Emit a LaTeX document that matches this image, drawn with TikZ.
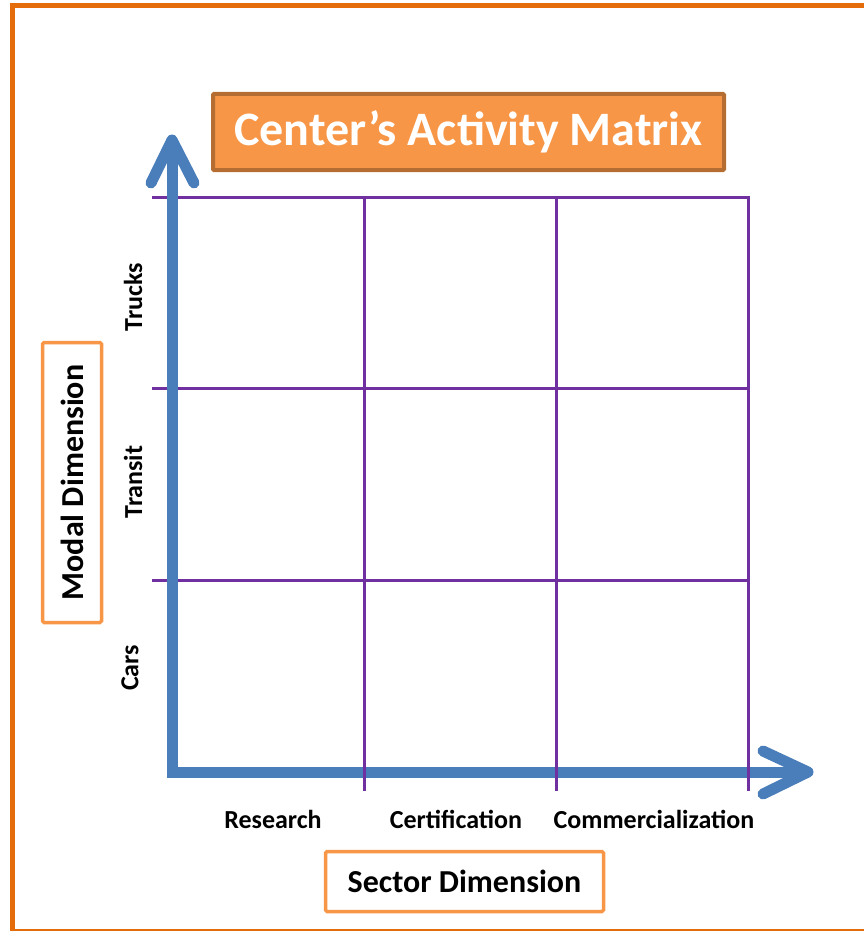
\documentclass[tikz,border=0pt]{standalone}
\usepackage{fontspec}
\setmainfont{Carlito}
\definecolor{frameor}{HTML}{E46C0A}
\definecolor{boxor}{HTML}{F79646}
\definecolor{boxedge}{HTML}{B66D31}
\definecolor{gridpurple}{HTML}{7030A0}
\definecolor{axisblue}{HTML}{4A7EBB}
\tikzset{
  gridline/.style={draw=gridpurple, line width=3pt},
  axisline/.style={draw=axisblue, line width=11pt},
  chevron/.style={draw=axisblue, line width=11pt, line cap=round, line join=round},
  dimbox/.style={draw=boxor, line width=3.5pt, fill=white, rounded corners=1.5pt, inner sep=0pt, font=\bfseries\fontsize{32}{36}\selectfont},
  ticklabel/.style={font=\bfseries\fontsize{26}{30}\selectfont, text=black, inner sep=0pt},
}
\begin{document}
\begin{tikzpicture}[x=1pt,y=-1pt]
\useasboundingbox (0,0) rectangle (864,931);
% outer frame
\draw[frameor, line width=5pt] (12.5,931) -- (12.5,5.5) -- (864,5.5);
\draw[frameor, line width=2pt] (12.5,929.5) -- (864,929.5);
% coordinates
\coordinate (org) at (172,772);
\coordinate (ytip) at (172,140);
\coordinate (xtip) at (808,772);
% horizontal grid lines (under axes)
\draw[gridline] (152,197) -- (749,197);
\draw[gridline] (152,388) -- (749,388);
\draw[gridline] (152,580) -- (749,580);
% axes
\draw[axisline, line join=miter] (ytip) -- (org) -- (xtip);
\draw[chevron] (151,183) -- (ytip) -- (194,183);
\draw[chevron] (763,751) -- (xtip) -- (763,794);
% vertical grid lines (over axes)
\draw[gridline] (364,197) -- (364,791);
\draw[gridline] (556,197) -- (556,791);
\draw[gridline] (748,195.5) -- (748,791);
% title
\node[draw=boxedge, fill=boxor, line width=4pt, rounded corners=1pt, minimum width=511pt, minimum height=76pt, inner sep=0pt,
      text=white, font=\bfseries\fontsize{48}{54}\selectfont] (title) at (468.5,132) {Center’s Activity Matrix};
% dimension boxes
\node[dimbox, minimum width=278pt, minimum height=60pt] (sector) at (464.5,881.5) {Sector Dimension};
\node[dimbox, minimum width=280pt, minimum height=59pt, rotate=90] (modal) at (72,482.5) {Modal Dimension};
% tick labels
\node[ticklabel, rotate=90] (trucks) at (133,297) {Trucks};
\node[ticklabel, rotate=90] (transit) at (133,482) {Transit};
\node[ticklabel, rotate=90] (cars) at (130,668) {Cars};
\node[ticklabel] (research) at (273,819) {Research};
\node[ticklabel] (cert) at (456,819) {Certification};
\node[ticklabel] (comm) at (654,819) {Commercialization};
\end{tikzpicture}
\end{document}
